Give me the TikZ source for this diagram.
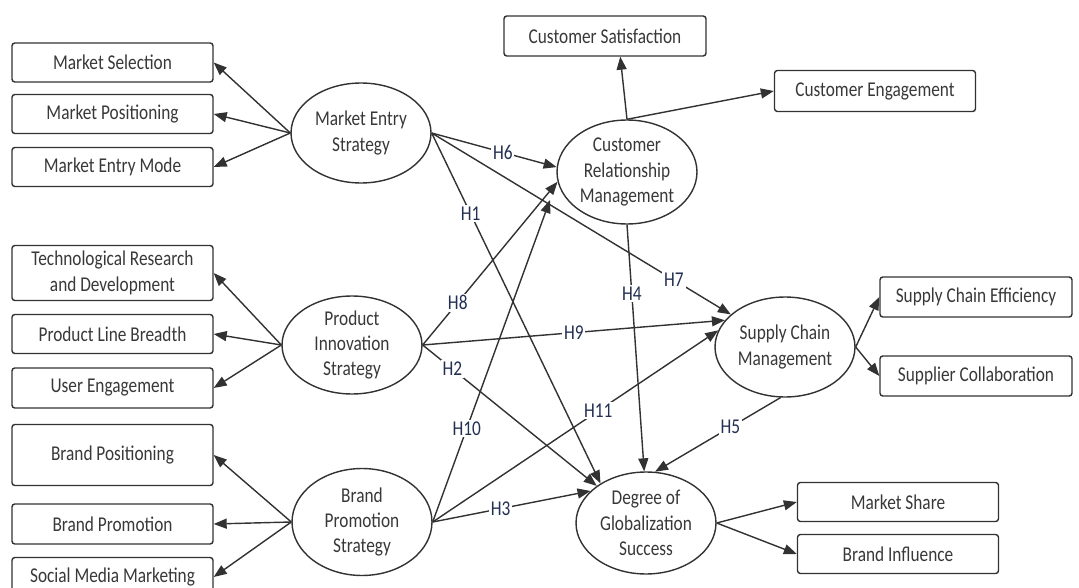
\documentclass[tikz,border=0pt]{standalone}
\usepackage{fontspec}
\setmainfont{Carlito}[FakeStretch=0.82]
\usepackage{tikz}
\usetikzlibrary{calc,arrows.meta,shapes.geometric}
\definecolor{edgegray}{RGB}{50,50,50}
\definecolor{hblue}{RGB}{34,48,82}
\tikzset{
	itembox/.style={draw=edgegray,rounded corners=1.6pt,line width=0.8pt,minimum width=4.02cm,minimum height=0.78cm,inner sep=1pt,align=center,text=black!78,font=\fontsize{12}{14.5}\selectfont},
	construct/.style={ellipse,draw=edgegray,line width=0.8pt,minimum width=2.8cm,minimum height=2cm,inner sep=0pt,align=center,text=black!78,font=\fontsize{12}{14.5}\selectfont},
	link/.style={-{Triangle[length=2.6mm,width=2mm]},draw=edgegray,line width=0.8pt},
	hlabel/.style={fill=white,inner sep=1pt,text=hblue,font=\fontsize{12}{14}\selectfont}
}

\begin{document}
\begin{tikzpicture}[x=0.02cm,y=-0.02cm]
	\useasboundingbox (0,0) rectangle (1079,588);
	
	% constructs
	\node[construct] (mes) at (361,133) {Market Entry\\Strategy};
	\node[construct,minimum height=2.08cm] (crm) at (627,172) {Customer\\Relationship\\Management};
	\node[construct,minimum height=1.96cm] (pis) at (352,345) {Product\\Innovation\\Strategy};
	\node[construct] (scm) at (785,347) {Supply Chain\\Management};
	\node[construct,minimum height=2.14cm] (bps) at (362,522) {Brand\\Promotion\\Strategy};
	\node[construct,minimum height=2.04cm] (dgs) at (646,523) {Degree of\\Globalization\\Success};
	
	% indicators, left column
	\node[itembox] (msel) at (112.5,62.5) {Market Selection};
	\node[itembox] (mpos) at (112.5,114) {Market Positioning};
	\node[itembox] (mmode) at (112.5,167) {Market Entry Mode};
	\node[itembox,minimum height=1.1cm] (trd) at (112.5,273) {Technological Research\\and Development};
	\node[itembox] (plb) at (112.5,334) {Product Line Breadth};
	\node[itembox,minimum height=0.8cm] (ueng) at (112.5,388) {User Engagement};
	\node[itembox,minimum height=1.22cm] (bpos) at (112.5,455) {Brand Positioning};
	\node[itembox,minimum height=0.8cm] (bprom) at (112.5,524) {Brand Promotion};
	\node[itembox,minimum height=0.78cm] (smm) at (112.5,577) {Social Media Marketing};
	
	% indicators, right side
	\node[itembox,minimum width=4.04cm,minimum height=0.8cm] (csat) at (605,36) {Customer Satisfaction};
	\node[itembox,minimum height=0.82cm] (ceng) at (875,91) {Customer Engagement};
	\node[itembox,minimum width=3.84cm,minimum height=0.8cm] (sce) at (976,297) {Supply Chain Efficiency};
	\node[itembox,minimum width=3.84cm,minimum height=0.8cm] (scol) at (976,376) {Supplier Collaboration};
	\node[itembox] (mshare) at (898,502) {Market Share};
	\node[itembox] (binf) at (898,554) {Brand Influence};
	
	% measurement arrows
	\foreach \b in {msel,mpos,mmode} \draw[link] (mes.west) -- (\b.east);
	\foreach \b in {trd,plb,ueng} \draw[link] (pis.west) -- (\b.east);
	\foreach \b in {bpos,bprom,smm} \draw[link] (bps.west) -- (\b.east);
	\draw[link] (crm.north) -- ($(csat.south)!0.15!(csat.south east)$);
	\draw[link] (crm.north) -- (ceng.west);
	\draw[link] (scm.east) -- (sce.west);
	\draw[link] (scm.east) -- (scol.west);
	\draw[link] (dgs.east) -- (mshare.west);
	\draw[link] (dgs.east) -- (binf.west);
	
	% hypotheses
	\draw[link] (mes.east) -- node[hlabel,pos=0.57] {H6} (crm.176);
	\draw[link] (mes.east) -- node[hlabel,pos=0.81] {H7} (scm.149);
	\draw[link] (mes.east) -- node[hlabel,pos=0.23] {H1} (dgs.139);
	\draw[link] (crm.south) -- node[hlabel,pos=0.28] {H4} (dgs.92);
	\draw[link] (scm.-95) -- node[hlabel,pos=0.4] {H5} (dgs.80);
	\draw[link] (pis.east) -- node[hlabel,pos=0.26] {H8} (crm.188);
	\draw[link] (pis.east) -- node[hlabel,pos=0.5] {H9} (scm.156);
	\draw[link] (pis.east) -- node[hlabel,pos=0.17] {H2} (dgs.143);
	\draw[link] (bps.east) -- node[hlabel,pos=0.29] {H10} ($(crm.center)+(-77,28)$);
	\draw[link] (bps.east) -- node[hlabel,pos=0.58] {H11} (scm.166);
	\draw[link] (bps.east) -- node[hlabel,pos=0.43] {H3} (dgs.150);
\end{tikzpicture}
\end{document}
